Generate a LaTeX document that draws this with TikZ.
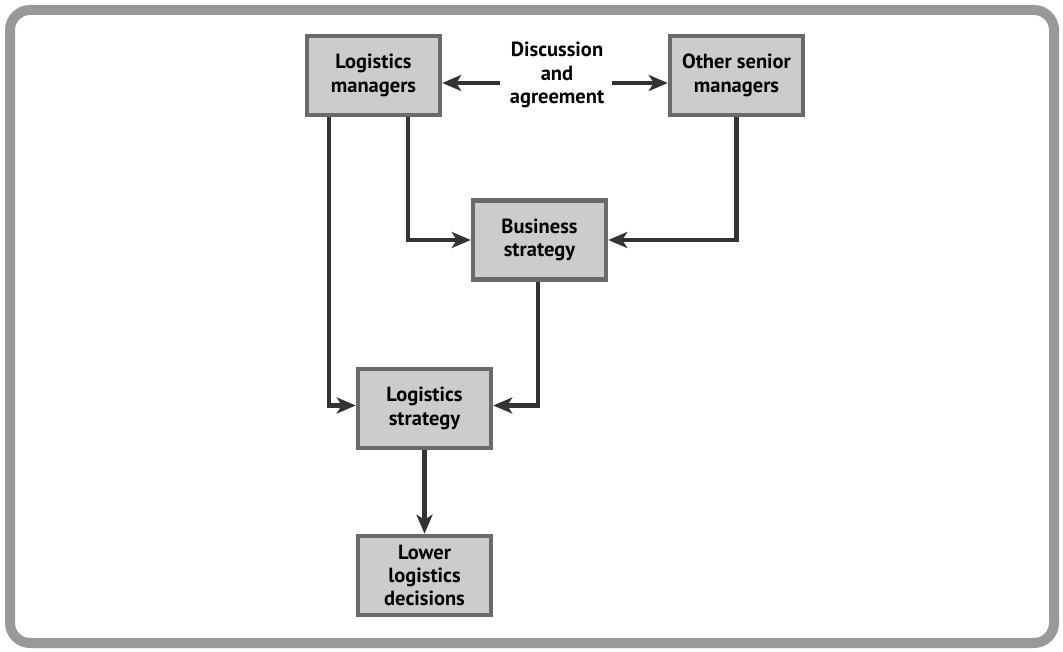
\documentclass[tikz,border=0pt]{standalone}
\usepackage{fontspec}
\setmainfont{PT Sans}
\usetikzlibrary{arrows.meta}
\definecolor{framegray}{HTML}{999999}
\definecolor{boxborder}{HTML}{6A6A6A}
\definecolor{boxfill}{HTML}{CCCCCC}
\definecolor{linedark}{HTML}{333333}
\tikzset{
  stagebox/.style={draw=boxborder, fill=boxfill, line width=4.5pt, minimum width=133pt, minimum height=79pt, inner sep=0pt, align=center, font=\fontsize{20.5}{23.3}\selectfont\bfseries},
  conn/.style={draw=linedark, line width=4.3pt, -{Stealth[length=19pt,width=16pt,inset=5pt]}},
  plain/.style={font=\fontsize{20.5}{23.3}\selectfont\bfseries, align=center, inner sep=0pt}
}
\begin{document}
\begin{tikzpicture}[x=1pt,y=-1pt]
\useasboundingbox (0,0) rectangle (1063,652);
\draw[framegray, line width=10pt, rounded corners=20pt] (10,10) rectangle (1054,643);

\node[stagebox] (lm) at (373.5,75.5) {Logistics\\managers};
\node[stagebox] (osm) at (736.5,75.5) {Other senior\\managers};
\node[stagebox] (bs) at (539.5,240) {Business\\strategy};
\node[stagebox] (ls) at (424.5,408.5) {Logistics\\strategy};
\node[stagebox] (lld) at (424.5,575.5) {Lower\\logistics\\decisions};
\node[plain] (disc) at (557,75) {Discussion\\and\\agreement};

\coordinate (l1) at (329,0);
\coordinate (l2) at (408,0);
\coordinate (bsx) at (538,0);

\draw[conn] (500,83) coordinate (da) -- (lm.east |- da);
\draw[conn] (612,83) coordinate (db) -- (osm.west |- db);
\draw[conn] (l1 |- lm.south) |- ([yshift=3pt]ls.west);
\draw[conn] (l2 |- lm.south) |- (bs.west);
\draw[conn] (osm.south) |- (bs.east);
\draw[conn] (bsx |- bs.south) |- ([yshift=3pt]ls.east);
\draw[conn] (ls.south) -- (lld.north);
\end{tikzpicture}
\end{document}
